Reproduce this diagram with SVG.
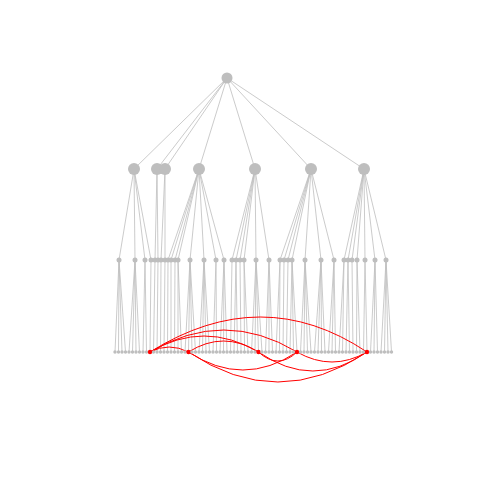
<svg xmlns="http://www.w3.org/2000/svg" width="480" height="480" viewBox="0 0 480 480">
<style>
.e{fill:none;stroke:#bebebe;stroke-width:0.8}
.r{fill:none;stroke:#ff0000;stroke-width:1}
.n0{fill:#bebebe}
.n1{fill:#bebebe}
.n2{fill:#bebebe}
.lf{fill:#bebebe}
.hl{fill:#ff0000}
</style>
<rect width="480" height="480" fill="#ffffff"/>
<g id="connectors">
<path class="e" d="M227 78L134 169M227 78L157 169M227 78L165 169M227 78L199 169M227 78L255 169M227 78L311 169M227 78L364 169"/>
<path class="e" d="M134 169L119 260M134 169L135 260M134 169L145 260M134 169L151 260"/>
<path class="e" d="M157 169L155 260M157 169L158 260"/>
<path class="e" d="M165 169L161 260M165 169L165 260"/>
<path class="e" d="M199 169L168 260M199 169L171 260M199 169L175 260M199 169L178 260M199 169L190 260M199 169L204 260M199 169L216 260M199 169L224 260"/>
<path class="e" d="M255 169L232 260M255 169L236 260M255 169L240 260M255 169L244 260M255 169L256 260M255 169L269 260"/>
<path class="e" d="M311 169L280 260M311 169L284 260M311 169L288 260M311 169L292 260M311 169L305 260M311 169L321 260M311 169L334 260"/>
<path class="e" d="M364 169L344 260M364 169L348 260M364 169L352 260M364 169L357 260M364 169L365 260M364 169L375 260M364 169L386 260"/>
<path class="e" d="M119 260L115 352M119 260L118.5 352M119 260L122 352M119 260L125.5 352
M135 260L129 352M135 260L132.5 352M135 260L136 352M135 260L139.5 352
M145 260L143 352M145 260L146.5 352
M151 260L150 352M155 260L153.5 352M158 260L157 352M161 260L160.5 352M165 260L164 352M168 260L167.5 352M171 260L171 352M175 260L174.5 352
M178 260L178 352M178 260L181.5 352
M190 260L185 352M190 260L188.5 352M190 260L192 352M190 260L195.5 352
M204 260L199 352M204 260L202.5 352M204 260L206 352M204 260L209.5 352
M216 260L213 352M216 260L216.5 352
M224 260L220 352M224 260L223.5 352M224 260L227 352
M232 260L230.5 352M236 260L234 352M236 260L237.5 352M240 260L241 352
M244 260L244.5 352M244 260L248 352
M256 260L251.5 352M256 260L255 352M256 260L258.5 352M256 260L262 352
M269 260L265.5 352M269 260L269 352M269 260L272.5 352
M280 260L276 352M280 260L279.5 352M284 260L283 352M288 260L286.5 352
M292 260L290 352M292 260L293.5 352M292 260L297 352
M305 260L300.5 352M305 260L304 352M305 260L307.5 352M305 260L311 352
M321 260L314.5 352M321 260L318 352M321 260L321.5 352M321 260L325 352
M334 260L328.5 352M334 260L332 352M334 260L335.5 352
M344 260L339 352M344 260L342.5 352M348 260L346 352M348 260L349.5 352M352 260L353 352
M357 260L356.5 352M357 260L360 352M365 260L363.5 352M365 260L367 352
M375 260L370.5 352M375 260L374 352M375 260L377.5 352
M386 260L381 352M386 260L384.5 352M386 260L388 352M386 260L391.5 352"/>
<path class="r" d="M150 352Q262 282 367 352"/>
<path class="r" d="M150 352Q224 308 297 352"/>
<path class="r" d="M150 352Q204 320 258.5 352"/>
<path class="r" d="M150 352Q169 342 188.5 352"/>
<path class="r" d="M188.5 352Q223.5 330 258.5 352"/>
<path class="r" d="M188.5 352Q278 412 367 352"/>
<path class="r" d="M188.5 352Q243 388 297 352"/>
<path class="r" d="M258.5 352Q278 370 297 352"/>
<path class="r" d="M258.5 352Q313 390 367 352"/>
<path class="r" d="M297 352Q332 372 367 352"/>
</g>
<g id="root"><circle class="n0" cx="227" cy="78" r="5.5"/></g>
<g id="a"><circle class="n1" cx="134" cy="169" r="6"/></g>
<g id="b"><circle class="n1" cx="157" cy="169" r="6"/></g>
<g id="c"><circle class="n1" cx="165" cy="169" r="6"/></g>
<g id="d"><circle class="n1" cx="199" cy="169" r="6"/></g>
<g id="e"><circle class="n1" cx="255" cy="169" r="6"/></g>
<g id="f"><circle class="n1" cx="311" cy="169" r="6"/></g>
<g id="g"><circle class="n1" cx="364" cy="169" r="6"/></g>
<g id="m119"><circle class="n2" cx="119" cy="260" r="2.5"/></g>
<g id="m135"><circle class="n2" cx="135" cy="260" r="2.5"/></g>
<g id="m145"><circle class="n2" cx="145" cy="260" r="2.5"/></g>
<g id="m151"><circle class="n2" cx="151" cy="260" r="2.5"/></g>
<g id="m155"><circle class="n2" cx="155" cy="260" r="2.5"/></g>
<g id="m158"><circle class="n2" cx="158" cy="260" r="2.5"/></g>
<g id="m161"><circle class="n2" cx="161" cy="260" r="2.5"/></g>
<g id="m165"><circle class="n2" cx="165" cy="260" r="2.5"/></g>
<g id="m168"><circle class="n2" cx="168" cy="260" r="2.5"/></g>
<g id="m171"><circle class="n2" cx="171" cy="260" r="2.5"/></g>
<g id="m175"><circle class="n2" cx="175" cy="260" r="2.5"/></g>
<g id="m178"><circle class="n2" cx="178" cy="260" r="2.5"/></g>
<g id="m190"><circle class="n2" cx="190" cy="260" r="2.5"/></g>
<g id="m204"><circle class="n2" cx="204" cy="260" r="2.5"/></g>
<g id="m216"><circle class="n2" cx="216" cy="260" r="2.5"/></g>
<g id="m224"><circle class="n2" cx="224" cy="260" r="2.5"/></g>
<g id="m232"><circle class="n2" cx="232" cy="260" r="2.5"/></g>
<g id="m236"><circle class="n2" cx="236" cy="260" r="2.5"/></g>
<g id="m240"><circle class="n2" cx="240" cy="260" r="2.5"/></g>
<g id="m244"><circle class="n2" cx="244" cy="260" r="2.5"/></g>
<g id="m256"><circle class="n2" cx="256" cy="260" r="2.5"/></g>
<g id="m269"><circle class="n2" cx="269" cy="260" r="2.5"/></g>
<g id="m280"><circle class="n2" cx="280" cy="260" r="2.5"/></g>
<g id="m284"><circle class="n2" cx="284" cy="260" r="2.5"/></g>
<g id="m288"><circle class="n2" cx="288" cy="260" r="2.5"/></g>
<g id="m292"><circle class="n2" cx="292" cy="260" r="2.5"/></g>
<g id="m305"><circle class="n2" cx="305" cy="260" r="2.5"/></g>
<g id="m321"><circle class="n2" cx="321" cy="260" r="2.5"/></g>
<g id="m334"><circle class="n2" cx="334" cy="260" r="2.5"/></g>
<g id="m344"><circle class="n2" cx="344" cy="260" r="2.5"/></g>
<g id="m348"><circle class="n2" cx="348" cy="260" r="2.5"/></g>
<g id="m352"><circle class="n2" cx="352" cy="260" r="2.5"/></g>
<g id="m357"><circle class="n2" cx="357" cy="260" r="2.5"/></g>
<g id="m365"><circle class="n2" cx="365" cy="260" r="2.5"/></g>
<g id="m375"><circle class="n2" cx="375" cy="260" r="2.5"/></g>
<g id="m386"><circle class="n2" cx="386" cy="260" r="2.5"/></g>
<g id="l0"><circle class="lf" cx="115" cy="352" r="1.7"/></g>
<g id="l1"><circle class="lf" cx="118.5" cy="352" r="1.7"/></g>
<g id="l2"><circle class="lf" cx="122" cy="352" r="1.7"/></g>
<g id="l3"><circle class="lf" cx="125.5" cy="352" r="1.7"/></g>
<g id="l4"><circle class="lf" cx="129" cy="352" r="1.7"/></g>
<g id="l5"><circle class="lf" cx="132.5" cy="352" r="1.7"/></g>
<g id="l6"><circle class="lf" cx="136" cy="352" r="1.7"/></g>
<g id="l7"><circle class="lf" cx="139.5" cy="352" r="1.7"/></g>
<g id="l8"><circle class="lf" cx="143" cy="352" r="1.7"/></g>
<g id="l9"><circle class="lf" cx="146.5" cy="352" r="1.7"/></g>
<g id="l10"><circle class="hl" cx="150" cy="352" r="2.2"/></g>
<g id="l11"><circle class="lf" cx="153.5" cy="352" r="1.7"/></g>
<g id="l12"><circle class="lf" cx="157" cy="352" r="1.7"/></g>
<g id="l13"><circle class="lf" cx="160.5" cy="352" r="1.7"/></g>
<g id="l14"><circle class="lf" cx="164" cy="352" r="1.7"/></g>
<g id="l15"><circle class="lf" cx="167.5" cy="352" r="1.7"/></g>
<g id="l16"><circle class="lf" cx="171" cy="352" r="1.7"/></g>
<g id="l17"><circle class="lf" cx="174.5" cy="352" r="1.7"/></g>
<g id="l18"><circle class="lf" cx="178" cy="352" r="1.7"/></g>
<g id="l19"><circle class="lf" cx="181.5" cy="352" r="1.7"/></g>
<g id="l20"><circle class="lf" cx="185" cy="352" r="1.7"/></g>
<g id="l21"><circle class="hl" cx="188.5" cy="352" r="2.2"/></g>
<g id="l22"><circle class="lf" cx="192" cy="352" r="1.7"/></g>
<g id="l23"><circle class="lf" cx="195.5" cy="352" r="1.7"/></g>
<g id="l24"><circle class="lf" cx="199" cy="352" r="1.7"/></g>
<g id="l25"><circle class="lf" cx="202.5" cy="352" r="1.7"/></g>
<g id="l26"><circle class="lf" cx="206" cy="352" r="1.7"/></g>
<g id="l27"><circle class="lf" cx="209.5" cy="352" r="1.7"/></g>
<g id="l28"><circle class="lf" cx="213" cy="352" r="1.7"/></g>
<g id="l29"><circle class="lf" cx="216.5" cy="352" r="1.7"/></g>
<g id="l30"><circle class="lf" cx="220" cy="352" r="1.7"/></g>
<g id="l31"><circle class="lf" cx="223.5" cy="352" r="1.7"/></g>
<g id="l32"><circle class="lf" cx="227" cy="352" r="1.7"/></g>
<g id="l33"><circle class="lf" cx="230.5" cy="352" r="1.7"/></g>
<g id="l34"><circle class="lf" cx="234" cy="352" r="1.7"/></g>
<g id="l35"><circle class="lf" cx="237.5" cy="352" r="1.7"/></g>
<g id="l36"><circle class="lf" cx="241" cy="352" r="1.7"/></g>
<g id="l37"><circle class="lf" cx="244.5" cy="352" r="1.7"/></g>
<g id="l38"><circle class="lf" cx="248" cy="352" r="1.7"/></g>
<g id="l39"><circle class="lf" cx="251.5" cy="352" r="1.7"/></g>
<g id="l40"><circle class="lf" cx="255" cy="352" r="1.7"/></g>
<g id="l41"><circle class="hl" cx="258.5" cy="352" r="2.2"/></g>
<g id="l42"><circle class="lf" cx="262" cy="352" r="1.7"/></g>
<g id="l43"><circle class="lf" cx="265.5" cy="352" r="1.7"/></g>
<g id="l44"><circle class="lf" cx="269" cy="352" r="1.7"/></g>
<g id="l45"><circle class="lf" cx="272.5" cy="352" r="1.7"/></g>
<g id="l46"><circle class="lf" cx="276" cy="352" r="1.7"/></g>
<g id="l47"><circle class="lf" cx="279.5" cy="352" r="1.7"/></g>
<g id="l48"><circle class="lf" cx="283" cy="352" r="1.7"/></g>
<g id="l49"><circle class="lf" cx="286.5" cy="352" r="1.7"/></g>
<g id="l50"><circle class="lf" cx="290" cy="352" r="1.7"/></g>
<g id="l51"><circle class="lf" cx="293.5" cy="352" r="1.7"/></g>
<g id="l52"><circle class="hl" cx="297" cy="352" r="2.2"/></g>
<g id="l53"><circle class="lf" cx="300.5" cy="352" r="1.7"/></g>
<g id="l54"><circle class="lf" cx="304" cy="352" r="1.7"/></g>
<g id="l55"><circle class="lf" cx="307.5" cy="352" r="1.7"/></g>
<g id="l56"><circle class="lf" cx="311" cy="352" r="1.7"/></g>
<g id="l57"><circle class="lf" cx="314.5" cy="352" r="1.7"/></g>
<g id="l58"><circle class="lf" cx="318" cy="352" r="1.7"/></g>
<g id="l59"><circle class="lf" cx="321.5" cy="352" r="1.7"/></g>
<g id="l60"><circle class="lf" cx="325" cy="352" r="1.7"/></g>
<g id="l61"><circle class="lf" cx="328.5" cy="352" r="1.7"/></g>
<g id="l62"><circle class="lf" cx="332" cy="352" r="1.7"/></g>
<g id="l63"><circle class="lf" cx="335.5" cy="352" r="1.7"/></g>
<g id="l64"><circle class="lf" cx="339" cy="352" r="1.7"/></g>
<g id="l65"><circle class="lf" cx="342.5" cy="352" r="1.7"/></g>
<g id="l66"><circle class="lf" cx="346" cy="352" r="1.7"/></g>
<g id="l67"><circle class="lf" cx="349.5" cy="352" r="1.7"/></g>
<g id="l68"><circle class="lf" cx="353" cy="352" r="1.7"/></g>
<g id="l69"><circle class="lf" cx="356.5" cy="352" r="1.7"/></g>
<g id="l70"><circle class="lf" cx="360" cy="352" r="1.7"/></g>
<g id="l71"><circle class="lf" cx="363.5" cy="352" r="1.7"/></g>
<g id="l72"><circle class="hl" cx="367" cy="352" r="2.2"/></g>
<g id="l73"><circle class="lf" cx="370.5" cy="352" r="1.7"/></g>
<g id="l74"><circle class="lf" cx="374" cy="352" r="1.7"/></g>
<g id="l75"><circle class="lf" cx="377.5" cy="352" r="1.7"/></g>
<g id="l76"><circle class="lf" cx="381" cy="352" r="1.7"/></g>
<g id="l77"><circle class="lf" cx="384.5" cy="352" r="1.7"/></g>
<g id="l78"><circle class="lf" cx="388" cy="352" r="1.7"/></g>
<g id="l79"><circle class="lf" cx="391.5" cy="352" r="1.7"/></g>
</svg>
